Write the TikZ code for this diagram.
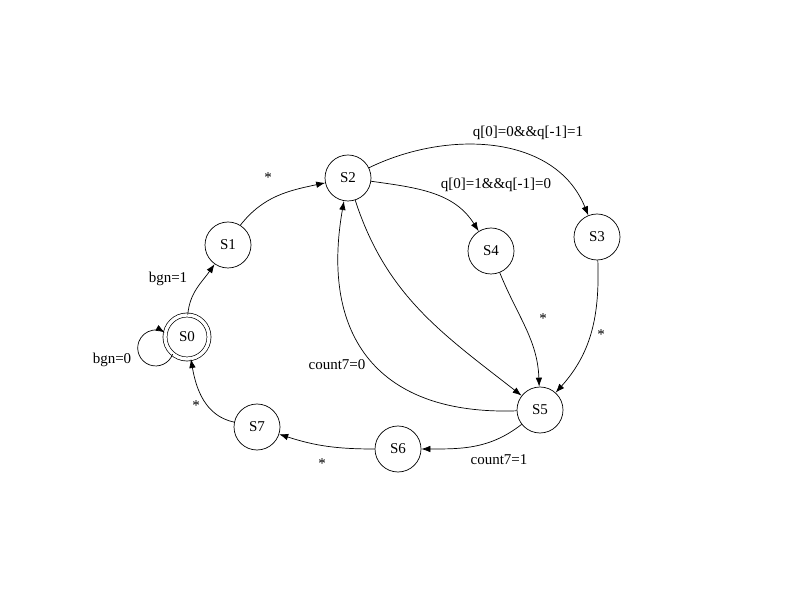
\documentclass[tikz,border=0pt]{standalone}
\usepackage{fontspec}
\setmainfont{Liberation Serif}
\usetikzlibrary{arrows.meta}
\begin{document}
\begin{tikzpicture}[x=1pt,y=1pt,
  state/.style={draw, circle, minimum size=46pt, inner sep=0pt, line width=0.7pt, font=\fontsize{15}{18}\selectfont},
  accst/.style={draw, circle, double, double distance=3.3pt, minimum size=44pt, inner sep=0pt, line width=0.7pt, font=\fontsize{15}{18}\selectfont},
  lbl/.style={inner sep=1pt, font=\fontsize{15}{18}\selectfont},
  arr/.style={-{Latex[length=9pt,width=6.5pt]}, line width=0.7pt}]
\useasboundingbox (0,0) rectangle (800,600);
\node[accst] (S0) at (187,263) {S0};
\node[state] (S1) at (228,355) {S1};
\node[state] (S2) at (348,422) {S2};
\node[state] (S3) at (597,363) {S3};
\node[state] (S4) at (491,349) {S4};
\node[state] (S5) at (540,190) {S5};
\node[state] (S6) at (398,151) {S6};
\node[state] (S7) at (257,173) {S7};

\draw[arr] (S0.88) to[out=85, in=235] (S1);
\draw[arr] (S1.58) to[out=52, in=192] (S2);
\draw[arr] (S0.230) arc[start angle=-20, end angle=-300, radius=18];
\draw[arr] (S2) to[out=26, in=112] (S3);
\draw[arr] (S2) to[out=-8, in=122] (S4);
\draw[arr] (S4) to[out=-68, in=92] (S5);
\draw[arr] (S3) to[out=-88, in=48] (S5);
\draw[arr] (S2) to[out=-72, in=142] (S5);
\draw[arr] (S5) to[out=182, in=260, looseness=1.3] (S2);
\draw[arr] (S5) to[out=218, in=0] (S6);
\draw[arr] (S6) to[out=180, in=-18] (S7);
\draw[arr] (S7) to[out=168, in=-80] (S0);

\node[lbl] (l01) at (168,321) {bgn=1};
\node[lbl] (l12) at (268,422) {*};
\node[lbl] (l00) at (112,240) {bgn=0};
\node[lbl] (l23) at (528,467) {q[0]=0\&\&q[-1]=1};
\node[lbl] (l24) at (496,415) {q[0]=1\&\&q[-1]=0};
\node[lbl] (l45) at (543,281) {*};
\node[lbl] (l35) at (601,265) {*};
\node[lbl] (l52) at (337,235) {count7=0};
\node[lbl] (l56) at (499,140) {count7=1};
\node[lbl] (l67) at (322,136) {*};
\node[lbl] (l70) at (196,194) {*};
\end{tikzpicture}
\end{document}
